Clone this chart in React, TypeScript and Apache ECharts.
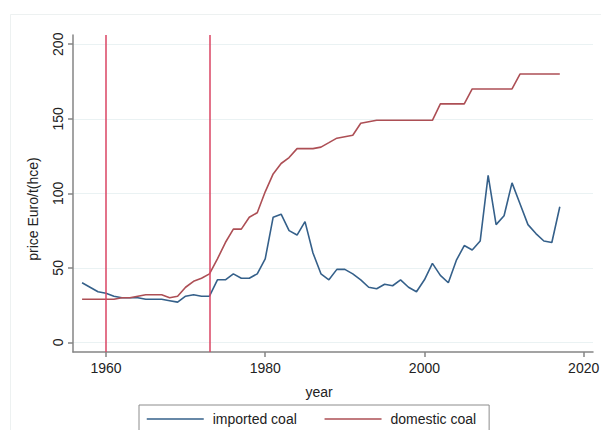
import React, { useEffect, useRef } from "react";
import * as echarts from "echarts";

const years = [
  1957, 1958, 1959, 1960, 1961, 1962, 1963, 1964, 1965, 1966, 1967, 1968, 1969,
  1970, 1971, 1972, 1973, 1974, 1975, 1976, 1977, 1978, 1979, 1980, 1981, 1982,
  1983, 1984, 1985, 1986, 1987, 1988, 1989, 1990, 1991, 1992, 1993, 1994, 1995,
  1996, 1997, 1998, 1999, 2000, 2001, 2002, 2003, 2004, 2005, 2006, 2007, 2008,
  2009, 2010, 2011, 2012, 2013, 2014, 2015, 2016, 2017,
];

const importedCoal = [
  40, 37, 34, 33, 31, 30, 30, 30, 29, 29, 29, 28, 27,
  31, 32, 31, 31, 42, 42, 46, 43, 43, 46, 56, 84, 86,
  75, 72, 81, 60, 46, 42, 49, 49, 46, 42, 37, 36, 39,
  38, 42, 37, 34, 42, 53, 45, 40, 55, 65, 62, 68, 112,
  79, 85, 107, 93, 79, 73, 68, 67, 91,
];

const domesticCoal = [
  29, 29, 29, 29, 29, 30, 30, 31, 32, 32, 32, 30, 31,
  37, 41, 43, 46, 56, 67, 76, 76, 84, 87, 101, 113, 120,
  124, 130, 130, 130, 131, 134, 137, 138, 139, 147, 148, 149, 149,
  149, 149, 149, 149, 149, 149, 160, 160, 160, 160, 170, 170, 170,
  170, 170, 170, 180, 180, 180, 180, 180, 180,
];

const eventYears = [1960, 1973];
const xTickValues = [1960, 1980, 2000, 2020];
const yTickValues = [0, 50, 100, 150, 200];

const FONT = '"Liberation Sans", Arial, sans-serif';
const BLUE = "#35608a";
const RED = "#ad4f55";

export default function App() {
  const ref = useRef<HTMLDivElement>(null);

  useEffect(() => {
    const chart = echarts.init(ref.current as HTMLDivElement, null, { renderer: "svg" });

    const importedData = years.map((y, i) => [y, importedCoal[i]]);
    const domesticData = years.map((y, i) => [y, domesticCoal[i]]);

    const axisLineStyle = { color: "#858585", width: 1.5 };

    chart.setOption({
      animation: false,
      backgroundColor: "#ffffff",
      textStyle: { fontFamily: FONT },
      grid: {
        left: 73,
        top: 35,
        right: 8,
        bottom: 78,
        containLabel: false,
        outerBoundsMode: "none",
      },
      xAxis: {
        type: "value",
        min: 1955.86,
        max: 2021.17,
        axisLine: { show: true, onZero: false, lineStyle: axisLineStyle },
        axisTick: {
          show: true,
          length: 5,
          inside: false,
          customValues: xTickValues,
          lineStyle: axisLineStyle,
        },
        axisLabel: {
          show: true,
          customValues: xTickValues,
          formatter: (v: number) => String(v),
          margin: 9,
          fontSize: 14,
          color: "#222222",
          fontFamily: FONT,
        },
        splitLine: { show: false },
      },
      yAxis: {
        type: "value",
        min: -6.43,
        max: 206.2,
        axisLine: { show: true, onZero: false, lineStyle: axisLineStyle },
        axisTick: {
          show: true,
          length: 5,
          inside: false,
          customValues: yTickValues,
          lineStyle: axisLineStyle,
        },
        axisLabel: {
          show: true,
          customValues: yTickValues,
          formatter: (v: number) => String(v),
          rotate: 90,
          margin: 8,
          fontSize: 14,
          color: "#222222",
          fontFamily: FONT,
        },
        splitLine: {
          show: true,
          lineStyle: { color: "#eaf2f3", width: 1 },
        },
      },
      legend: {
        show: true,
        left: 139,
        top: 405,
        orient: "horizontal",
        padding: [7, 13, 8, 7],
        borderColor: "#8c8c8c",
        borderWidth: 1,
        itemWidth: 57,
        itemHeight: 14,
        itemGap: 27,
        selectedMode: false,
        itemStyle: { opacity: 0 },
        lineStyle: { width: 1.5 },
        textStyle: {
          fontSize: 14,
          color: "#222222",
          fontFamily: FONT,
          padding: [0, 0, 0, 4],
        },
        data: ["imported coal", "domestic coal"],
      },
      graphic: [
        {
          type: "rect",
          silent: true,
          shape: { x: 10.5, y: 14.5, width: 600, height: 430 },
          style: { fill: "none", stroke: "#edf1f1", lineWidth: 1 },
        },
        {
          type: "text",
          silent: true,
          x: 33,
          y: 209,
          rotation: Math.PI / 2,
          style: {
            text: "price Euro/t(hce)",
            fill: "#222222",
            font: `14px ${FONT}`,
            align: "center",
            verticalAlign: "middle",
          },
        },
        {
          type: "text",
          silent: true,
          x: 319,
          y: 392,
          style: {
            text: "year",
            fill: "#222222",
            font: `14px ${FONT}`,
            align: "center",
            verticalAlign: "middle",
          },
        },
      ],
      series: [
        {
          name: "imported coal",
          type: "line",
          data: importedData,
          symbol: "none",
          showSymbol: false,
          lineStyle: { color: BLUE, width: 1.6 },
          itemStyle: { color: BLUE },
          z: 3,
          markLine: {
            silent: true,
            symbol: "none",
            label: { show: false },
            lineStyle: { color: "#da4463", width: 1.5, type: "solid" },
            data: eventYears.map((y) => ({ xAxis: y })),
          },
        },
        {
          name: "domestic coal",
          type: "line",
          data: domesticData,
          symbol: "none",
          showSymbol: false,
          lineStyle: { color: RED, width: 1.6 },
          itemStyle: { color: RED },
          z: 3,
        },
      ],
    });

    return () => {
      chart.dispose();
    };
  }, []);

  return (
    <div
      ref={ref}
      style={{
        position: "absolute",
        left: 0,
        top: 0,
        width: 601,
        height: 430,
        background: "#ffffff",
      }}
    />
  );
}
